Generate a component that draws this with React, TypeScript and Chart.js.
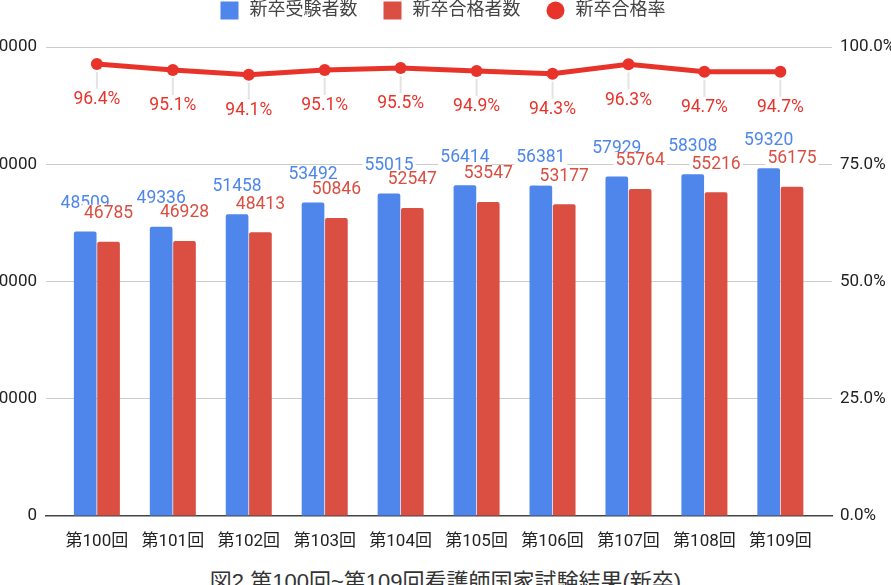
import { useEffect, useRef } from "react"
import { Chart, registerables, Plugin } from "chart.js"

Chart.register(...registerables)

const FONT = "Roboto, 'Noto Sans CJK JP', sans-serif"

const rounds = ["第100回", "第101回", "第102回", "第103回", "第104回", "第105回", "第106回", "第107回", "第108回", "第109回"]
const examinees = [48509, 49336, 51458, 53492, 55015, 56414, 56381, 57929, 58308, 59320]
const passers = [46785, 46928, 48413, 50846, 52547, 53547, 53177, 55764, 55216, 56175]
const passRates = [96.4, 95.1, 94.1, 95.1, 95.5, 94.9, 94.3, 96.3, 94.7, 94.7]
const countTicks = [0, 20000, 40000, 60000, 80000]
const rateTicks = [0, 25, 50, 75, 100]

const BLUE = "#4e86ec"
const RED = "#da4f41"
const LINE_RED = "#e8332a"

// legend drawn by hand so the gaps match the original sheet export
const topLegend: Plugin = {
  id: "topLegend",
  afterDraw(chart) {
    const { ctx, chartArea } = chart
    ctx.save()
    ctx.font = `18px ${FONT}`
    ctx.textBaseline = "middle"
    const box = 18
    const items = chart.data.datasets.map((ds: any) => ({
      label: ds.label as string,
      color: (ds.type === "line" ? ds.borderColor : ds.backgroundColor) as string,
      circle: ds.type === "line",
    }))
    const widths = items.map(it => box + 11 + ctx.measureText(it.label).width)
    const total = widths.reduce((a, b) => a + b, 0) + 26 * (items.length - 1)
    let x = (chartArea.left + chartArea.right) / 2 + 4 - total / 2
    const y = 10.5
    items.forEach((it, i) => {
      ctx.fillStyle = it.color
      if (it.circle) {
        ctx.beginPath()
        ctx.arc(x + box / 2, y, box / 2, 0, Math.PI * 2)
        ctx.fill()
      } else {
        ctx.fillRect(x, y - box / 2, box, box)
      }
      ctx.fillStyle = "#444"
      ctx.fillText(it.label, x + box + 11, y)
      x += widths[i] + 26
    })
    ctx.restore()
  },
}

const valueLabels: Plugin = {
  id: "valueLabels",
  afterDatasetsDraw(chart) {
    const { ctx } = chart
    ctx.save()
    ctx.font = `17.5px ${FONT}`
    ctx.textAlign = "center"
    ctx.textBaseline = "middle"
    chart.data.datasets.forEach((ds: any, di) => {
      if (ds.type === "line") return
      const meta = chart.getDatasetMeta(di)
      meta.data.forEach((el: any, i) => {
        const text = String(ds.data[i].y)
        const w = ctx.measureText(text).width
        const cy = el.y - 28
        ctx.fillStyle = "#fff"
        ctx.fillRect(el.x - w / 2 - 2, cy - 9, w + 4, 18)
        ctx.fillStyle = ds.backgroundColor
        ctx.fillText(text, el.x, cy)
      })
    })
    chart.data.datasets.forEach((ds: any, di) => {
      if (ds.type !== "line") return
      const meta = chart.getDatasetMeta(di)
      meta.data.forEach((el: any, i) => {
        ctx.strokeStyle = "#e3e3e3"
        ctx.lineWidth = 2
        ctx.beginPath()
        ctx.moveTo(el.x, el.y + 8)
        ctx.lineTo(el.x, el.y + 25)
        ctx.stroke()
        ctx.fillStyle = LINE_RED
        ctx.font = `17.5px ${FONT}`
        ctx.fillText(`${ds.data[i].y.toFixed(1)}%`, el.x, el.y + 36)
      })
    })
    ctx.restore()
  },
}

function NursingExamChart() {
  const chartRef = useRef<HTMLCanvasElement>(null)

  useEffect(() => {
    if (!chartRef.current) return
    const ctx = chartRef.current.getContext("2d")
    if (!ctx) return

    const chart = new Chart(ctx, {
      type: "bar",
      data: {
        datasets: [
          {
            type: "bar",
            label: "新卒受験者数",
            data: examinees.map((v, i) => ({ x: i, y: v })),
            backgroundColor: BLUE,
            borderRadius: 2,
            yAxisID: "y",
            order: 1,
          },
          {
            type: "bar",
            label: "新卒合格者数",
            data: passers.map((v, i) => ({ x: i, y: v })),
            backgroundColor: RED,
            borderRadius: 2,
            yAxisID: "y",
            order: 1,
          },
          {
            type: "line",
            label: "新卒合格率",
            data: passRates.map((v, i) => ({ x: i, y: v })),
            borderColor: LINE_RED,
            backgroundColor: LINE_RED,
            borderWidth: 5,
            pointRadius: 6,
            pointBackgroundColor: LINE_RED,
            pointBorderWidth: 0,
            yAxisID: "y1",
            order: 0,
          },
        ] as any,
      },
      options: {
        animation: false,
        responsive: true,
        maintainAspectRatio: false,
        datasets: { bar: { categoryPercentage: 0.615, barPercentage: 0.97 } },
        layout: { padding: { top: 47, bottom: 4, left: 0, right: 0 } },
        plugins: { legend: { display: false }, tooltip: { enabled: false } },
        scales: {
          x: {
            type: "linear",
            offset: false,
            min: -0.67,
            max: 9.68,
            grid: { display: false },
            border: { display: true, color: "#444", width: 1.5 },
            ticks: {
              stepSize: 1,
              includeBounds: false,
              autoSkip: false,
              maxRotation: 0,
              padding: 8,
              color: "#222",
              font: { size: 17, family: FONT },
              callback: (v: any) => (Number.isInteger(v) ? rounds[v] ?? "" : ""),
            },
            afterFit: (s: any) => { s.height = 40 },
          },
          y: {
            position: "left",
            min: countTicks[0],
            max: countTicks[countTicks.length - 1],
            afterBuildTicks: (s: any) => { s.ticks = countTicks.map(v => ({ value: v })) },
            border: { display: false },
            grid: {
              drawTicks: false,
              color: (c: any) => (c.tick && c.tick.value === 0 ? "rgba(0,0,0,0)" : "#cccccc"),
            },
            ticks: {
              padding: 9,
              color: "#222",
              font: { size: 17, family: FONT },
              callback: (v: any) => String(v),
            },
            afterFit: (s: any) => { s.width = 76 },
          },
          y1: {
            position: "right",
            min: rateTicks[0],
            max: rateTicks[rateTicks.length - 1],
            afterBuildTicks: (s: any) => { s.ticks = rateTicks.map(v => ({ value: v })) },
            border: { display: false },
            grid: { display: false, drawTicks: false },
            ticks: {
              padding: 8,
              color: "#222",
              font: { size: 17, family: FONT },
              callback: (v: any) => `${Number(v).toFixed(1)}%`,
            },
            afterFit: (s: any) => { s.width = 98 },
          },
        },
      },
      plugins: [valueLabels, topLegend],
    })
    return () => chart.destroy()
  }, [])

  return (
    <div style={{ position: "absolute", left: -30, top: 0, width: 960, height: 560 }}>
      <canvas ref={chartRef} />
    </div>
  )
}

export default function App() {
  return (
    <div style={{ position: "fixed", left: 0, top: 0, width: 891, height: 585, overflow: "hidden", background: "#fff" }}>
      <NursingExamChart />
      <div
        style={{
          position: "absolute",
          top: 571,
          left: 0,
          width: 891,
          textAlign: "center",
          fontSize: 22,
          lineHeight: 1,
          color: "#333",
          fontFamily: "'Liberation Sans', 'Noto Sans CJK JP', sans-serif",
          whiteSpace: "nowrap",
        }}
      >
        図2 第100回~第109回看護師国家試験結果(新卒)
      </div>
    </div>
  )
}
